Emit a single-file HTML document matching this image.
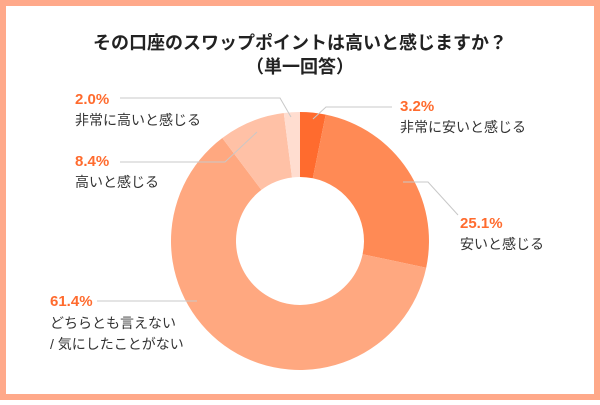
<!DOCTYPE html>
<html><head><meta charset="utf-8"><style>
html,body{margin:0;padding:0;}
body{width:600px;height:400px;overflow:hidden;background:#fff;}
</style></head><body>
<svg width="600" height="400" xmlns="http://www.w3.org/2000/svg" font-family="'Liberation Sans','Noto Sans CJK JP',sans-serif">
<rect x="3" y="3" width="594" height="394" fill="#fff" stroke="#FFA98A" stroke-width="6"/>
<text x="300" y="49" text-anchor="middle" font-size="18" font-weight="bold" fill="#222">その口座のスワップポイントは高いと感じますか？</text>
<text x="300" y="73" text-anchor="middle" font-size="18" font-weight="bold" fill="#222">（単一回答）</text>
<g transform="translate(300,241)">
<path d="M0,-129 A129,129 0 0 1 25.7,-126.4 L12.8,-62.7 A64,64 0 0 0 0,-64Z" fill="#FF6B2E"/>
<path d="M25.7,-126.4 A129,129 0 0 1 126.2,26.7 L62.6,13.3 A64,64 0 0 0 12.8,-62.7Z" fill="#FF8A55"/>
<path d="M126.2,26.7 A129,129 0 1 1 -77.7,-103 L-38.6,-51.1 A64,64 0 1 0 62.6,13.3Z" fill="#FFA880"/>
<path d="M-77.7,-103 A129,129 0 0 1 -16.2,-128 L-8,-63.5 A64,64 0 0 0 -38.6,-51.1Z" fill="#FFC1A6"/>
<path d="M-16.2,-128 A129,129 0 0 1 0,-129 L0,-64 A64,64 0 0 0 -8,-63.5Z" fill="#FFDDD0"/>
</g>
<g stroke="#c8c8c8" stroke-width="1" fill="none">
<polyline points="120,98 280,98 291,117"/>
<polyline points="120,162 225,162 257,132"/>
<polyline points="313,119 326,107 392,107"/>
<polyline points="403,182 428,182 458,215"/>
<polyline points="97,301 197,301"/>
</g>
<g font-size="15" font-weight="bold" fill="#FF6B2E">
<text x="75" y="104">2.0%</text>
<text x="75" y="166">8.4%</text>
<text x="400" y="111">3.2%</text>
<text x="460" y="228">25.1%</text>
<text x="50" y="306">61.4%</text>
</g>
<g font-size="14" fill="#333">
<text x="75" y="125">非常に高いと感じる</text>
<text x="75" y="187">高いと感じる</text>
<text x="400" y="132">非常に安いと感じる</text>
<text x="460" y="249">安いと感じる</text>
<text x="50" y="328">どちらとも言えない</text>
<text x="50" y="349">/ 気にしたことがない</text>
</g>
</svg>
</body></html>
